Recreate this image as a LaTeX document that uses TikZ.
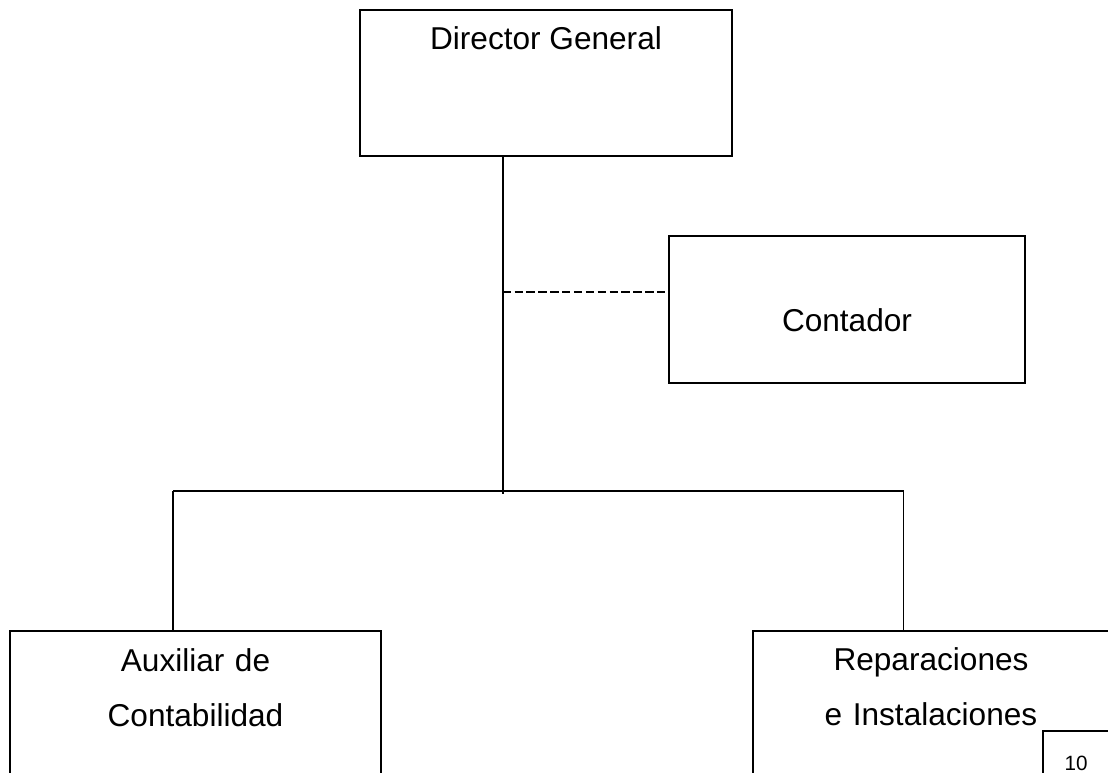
\documentclass[tikz,border=0pt]{standalone}
\usepackage{fontspec}
\setmainfont{Liberation Sans}

\tikzset{
  unitbox/.style={draw, line width=1.4pt, inner sep=0pt, align=center,
    font=\fontsize{23.7}{41.5}\selectfont},
  pagebox/.style={draw, fill=white, line width=1.4pt, inner sep=0pt,
    font=\fontsize{15.5}{18}\selectfont},
  link/.style={line width=1.4pt},
  staff/.style={line width=1.4pt, dash pattern=on 6.3pt off 2.6pt},
}

\begin{document}
\begin{tikzpicture}[x=0.75pt,y=0.75pt,yscale=-1,xscale=1]
\path[use as bounding box, clip] (0,0) rectangle (1108,773);

%Shape: Rectangle
\node[unitbox, minimum width=279pt, minimum height=109.5pt,
  text height=17pt, text depth=66.5pt] (director) at (546,83) {Director General};
%Shape: Rectangle
\node[unitbox, minimum width=267pt, minimum height=110.25pt,
  text height=38.75pt, text depth=5pt] (contador) at (847,309.5) {Contador};
%Shape: Rectangle
\node[unitbox, text width=250pt, minimum width=278.25pt, minimum height=150pt,
  text height=17pt, text depth=105.8pt] (auxiliar) at (195.5,730.7) {Auxiliar de\\Contabilidad};
%Shape: Rectangle
\node[unitbox, text width=250pt, minimum width=267pt, minimum height=150pt,
  text height=17pt, text depth=108pt] (reparac) at (931,730.7) {Reparaciones\\e Instalaciones};
%Shape: Rectangle
\node[pagebox, minimum width=49.5pt, minimum height=48pt] (pagenum) at (1076,763) {10};

%Straight Lines
\coordinate (trunk) at (502.7,494);
\coordinate (staffpt) at (502.7,291.7);
\coordinate (barL) at (173,490.7);
\coordinate (barR) at (903.5,490.7);

\draw[link] (director.south -| trunk) -- (trunk);
\draw[staff] (staffpt) -- (staffpt -| contador.west);
\draw[link] (barL) -- (barR);
\draw[link] (barL) -- (barL |- auxiliar.north);
\draw[link] (barR) -- (barR |- reparac.north);

\end{tikzpicture}
\end{document}
